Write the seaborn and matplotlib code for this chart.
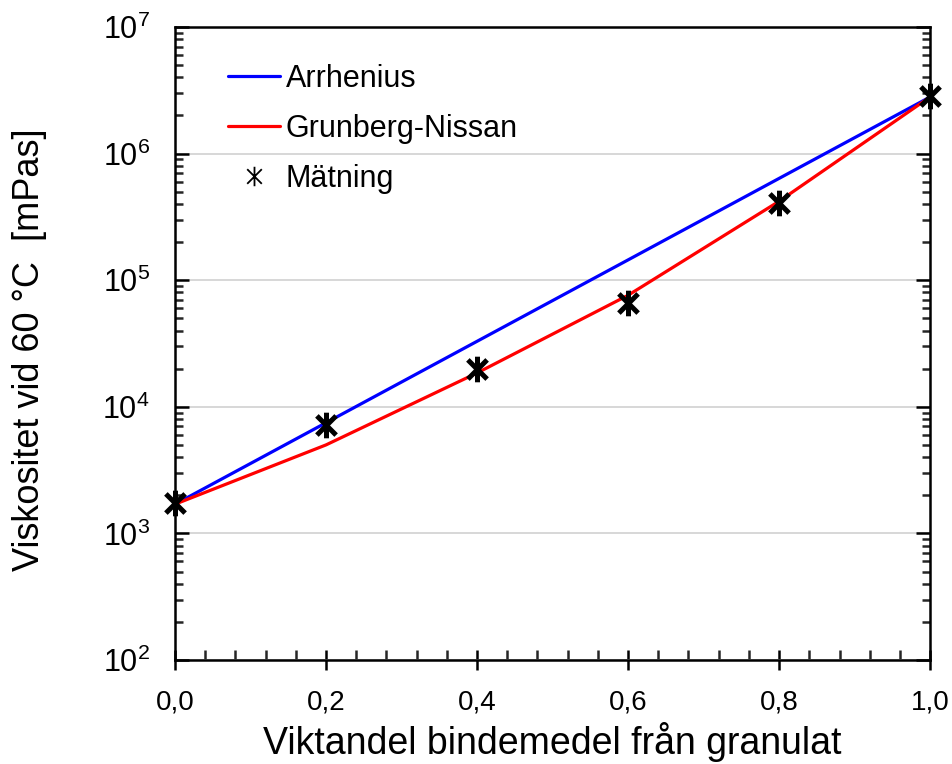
import numpy as np
import pandas as pd
import matplotlib
matplotlib.use("Agg")
import matplotlib.pyplot as plt
import matplotlib.ticker as mticker
from matplotlib.lines import Line2D
from matplotlib.path import Path
import seaborn as sns

# Binder fraction from recycled granulate
andel = [0.0, 0.2, 0.4, 0.6, 0.8, 1.0]
# Model predictions of viscosity at 60 °C [mPas]
arrhenius = [1700, 7480, 32900, 144600, 636700, 2800000]
grunberg_nissan = [1700, 5000, 18500, 76000, 420000, 2800000]
# Measured viscosity [mPas]
matning = [1730, 7200, 20000, 66000, 405000, 2850000]

sns.set_theme(style="white")
plt.rcParams["font.family"] = ["Liberation Sans", "DejaVu Sans"]
plt.rcParams["text.color"] = "black"
plt.rcParams["axes.labelcolor"] = "black"
plt.rcParams["mathtext.fontset"] = "custom"
plt.rcParams["mathtext.rm"] = "Liberation Sans"
plt.rcParams["mathtext.it"] = "Liberation Sans"

# Asterisk marker: an X crossed by a vertical bar
star = Path(
    [(-0.75, -0.75), (0.75, 0.75), (-0.75, 0.75), (0.75, -0.75), (0, -1), (0, 1)],
    [Path.MOVETO, Path.LINETO, Path.MOVETO, Path.LINETO, Path.MOVETO, Path.LINETO],
)

df_lines = pd.DataFrame({
    "andel": andel * 2,
    "visk": arrhenius + grunberg_nissan,
    "modell": ["Arrhenius"] * len(andel) + ["Grunberg-Nissan"] * len(andel),
})
df_pts = pd.DataFrame({"andel": andel, "visk": matning})

fig = plt.figure(figsize=(9.53, 7.64), dpi=100)
ax = fig.add_axes([0.1836, 0.1361, 0.976 - 0.1836, 0.9647 - 0.1361])

ax.set_yscale("log")
sns.lineplot(data=df_lines, x="andel", y="visk", hue="modell",
             palette={"Arrhenius": "#0000ff", "Grunberg-Nissan": "#ff0000"},
             linewidth=2.3, ax=ax, legend=False, zorder=3)
sns.scatterplot(data=df_pts, x="andel", y="visk", marker=star, s=340,
                color="black", linewidth=3.6, edgecolor="black", ax=ax, zorder=4,
                clip_on=False)

ax.set_xlim(0, 1)
ax.set_ylim(1e2, 1e7)

# Grid only at each decade
ax.yaxis.grid(True, which="major", color="#d4d4d4", linewidth=1.3)
ax.xaxis.grid(False)
ax.set_axisbelow(True)

for s in ax.spines.values():
    s.set_color("black")
    s.set_linewidth(1.8)

ax.xaxis.set_major_locator(mticker.MultipleLocator(0.2))
ax.xaxis.set_minor_locator(mticker.MultipleLocator(0.04))
ax.xaxis.set_major_formatter(mticker.FuncFormatter(lambda v, p: f"{v:.1f}".replace(".", ",")))
ax.yaxis.set_major_locator(mticker.LogLocator(base=10, numticks=10))
ax.yaxis.set_minor_locator(mticker.LogLocator(base=10, subs=np.arange(2, 10), numticks=20))
ax.yaxis.set_minor_formatter(mticker.NullFormatter())
ax.yaxis.set_major_formatter(mticker.FuncFormatter(lambda v, p: r"$\mathregular{10^{%d}}$" % round(np.log10(v))))

ax.tick_params(axis="x", which="major", direction="inout", length=14, width=1.8, labelsize=20,
               colors="black", pad=14, bottom=True, top=False)
ax.tick_params(axis="x", which="minor", direction="in", length=7, width=1.8, bottom=True, top=False)
ax.tick_params(axis="y", which="major", direction="in", length=10, width=1.8, labelsize=22,
               colors="black", left=True, right=True, pad=18)
ax.tick_params(axis="y", which="minor", direction="in", length=6, width=1.8, left=True, right=True)

ax.set_xlabel("Viktandel bindemedel från granulat", fontsize=27, color="black")
ax.set_ylabel("Viskositet vid 60 °C  [mPas]", fontsize=26, color="black")
ax.xaxis.set_label_coords(0.5, -0.098)
ax.yaxis.set_label_coords(-0.170, 0.49)

handles = [
    Line2D([], [], color="#0000ff", linewidth=2.3),
    Line2D([], [], color="#ff0000", linewidth=2.3),
    Line2D([], [], color="black", linestyle="none", marker=star, markersize=14,
           markeredgewidth=1.3),
]
leg = ax.legend(handles, ["Arrhenius", "Grunberg-Nissan", "Mätning"], loc="upper left",
                bbox_to_anchor=(0.07, 0.942), frameon=False, fontsize=22, handlelength=1.7,
                handletextpad=0.2, labelspacing=0.66, borderaxespad=0, borderpad=0)
for t in leg.get_texts():
    t.set_color("black")

fig.savefig("out.png", dpi=100)
